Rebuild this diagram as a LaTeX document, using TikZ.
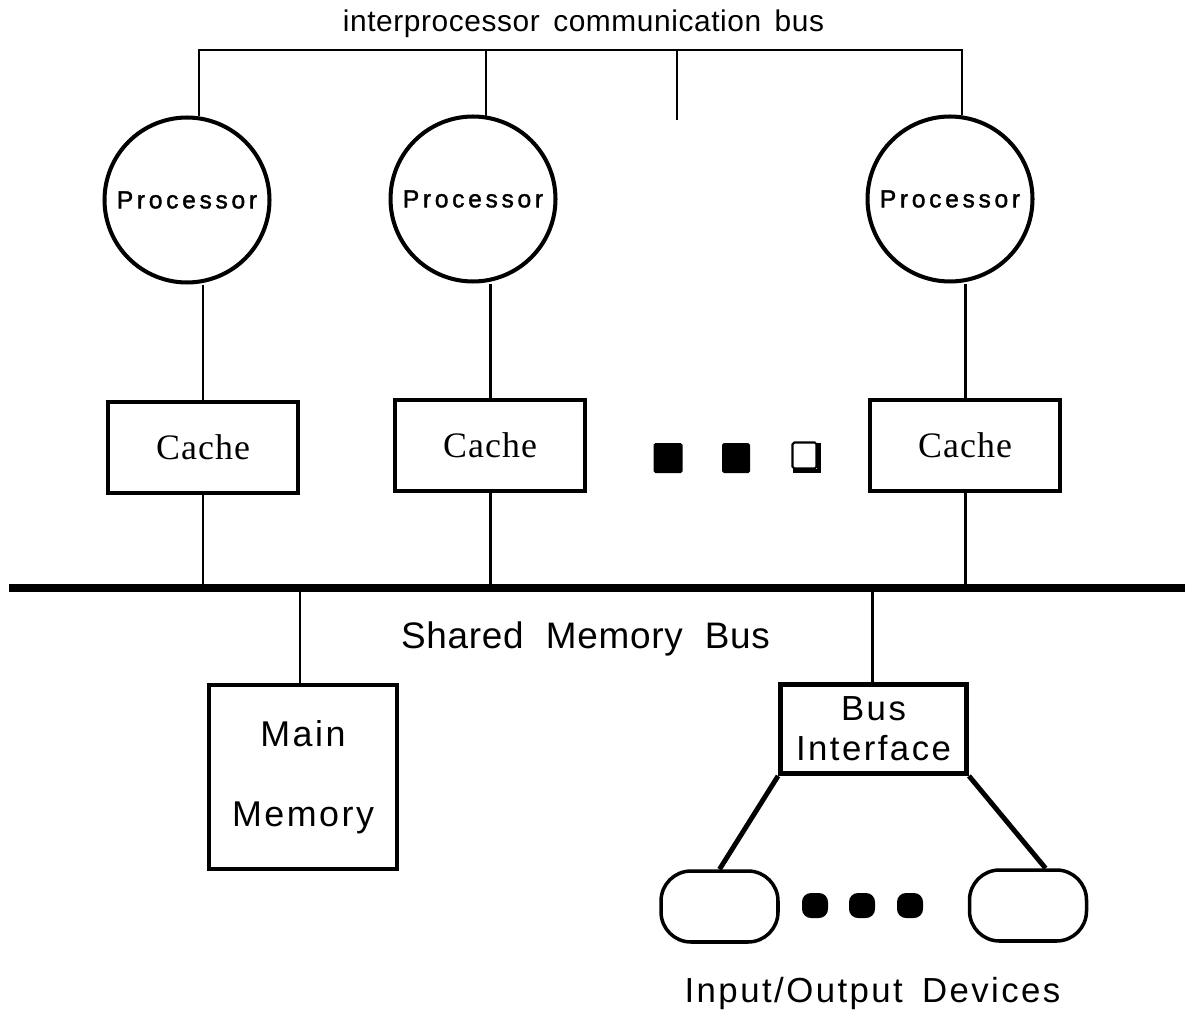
\documentclass[tikz,border=0pt]{standalone}
\usepackage{fontspec}
\setmainfont{Liberation Sans}
\newfontfamily\serfont[LetterSpace=3]{Liberation Serif}
\newfontfamily\trackfont[LetterSpace=7]{Liberation Sans}
\newfontfamily\lighttrack[LetterSpace=2]{Liberation Sans}
\newfontfamily\procfont[LetterSpace=15,FakeBold=1.5]{Liberation Sans}
\begin{document}
\begin{tikzpicture}[x=0.02cm,y=-0.02cm,
  proc/.style={circle,draw,line width=2.3pt,minimum size=3.3cm,inner sep=0pt,
    font=\procfont\fontsize{14}{16}\selectfont},
  cachebox/.style={draw,line width=2.4pt,minimum width=3.8cm,minimum height=1.82cm,inner sep=0pt,
    font=\serfont\fontsize{20.4}{24}\selectfont},
  membox/.style={draw,line width=2.5pt,minimum width=3.76cm,minimum height=3.68cm,inner sep=0pt,align=center,
    font=\trackfont\fontsize{20.4}{45.4}\selectfont},
  bibox/.style={draw,line width=2.8pt,minimum width=3.72cm,minimum height=1.78cm,inner sep=0pt,align=center,
    font=\trackfont\fontsize{19.8}{22.7}\selectfont},
  iobox/.style={draw,line width=2pt,minimum width=2.34cm,minimum height=1.42cm,inner sep=0pt,rounded corners=0.6cm},
  iodot/.style={fill,minimum width=0.52cm,minimum height=0.5cm,inner sep=0pt,rounded corners=0.18cm},
  fsq/.style={fill,minimum width=0.58cm,minimum height=0.6cm,inner sep=0pt,rounded corners=1pt},
  thinline/.style={line width=1.1pt},
  midline/.style={line width=1.7pt},
  thickline/.style={line width=2.8pt},
  busline/.style={line width=5.1pt}
]
\useasboundingbox (0,0) rectangle (1185,1013);

% title
\node[anchor=base,font=\lighttrack\fontsize{17}{20}\selectfont,inner sep=0pt] (title) at (583.5,32)
  {interprocessor\hspace{0.45em}communication\hspace{0.45em}bus};

% processors
\node[proc] (p1) at (187,200) {Processor};
\node[proc] (p2) at (473,199) {Processor};
\node[proc] (p3) at (950,199) {Processor};

% interprocessor bus
\coordinate (ib) at (0,50);
\coordinate (stubA) at (677,50);
\coordinate (stubB) at (677,120);
\draw[thinline] (p1.82) |- (p3.82 |- ib) -- (p3.82);
\draw[thinline] (p2.81) -- (p2.81 |- ib);
\draw[thinline] (stubA) -- (stubB);

% caches
\node[cachebox] (c1) at (203,447.5) {Cache};
\node[cachebox] (c2) at (490,445.5) {Cache};
\node[cachebox] (c3) at (965,445.5) {Cache};

\draw[midline] (p1.south -| c1.north) -- (c1.north);
\draw[midline] (p2.south -| c2.north) -- (c2.north);
\draw[midline] (p3.south -| c3.north) -- (c3.north);

% ellipsis squares
\node[fsq] (s1) at (668,458) {};
\node[fsq,minimum width=0.56cm] (s2) at (736,458) {};
\node[draw,line width=1.2pt,minimum width=0.48cm,minimum height=0.52cm,inner sep=0pt,rounded corners=1pt] (s3) at (804.5,455.5) {};
\draw[line width=2.2pt] ([shift={(2,1.5)}]s3.south west) -| ([shift={(1.5,2)}]s3.north east);

% shared memory bus
\coordinate (busL) at (9,588);
\coordinate (busR) at (1185,588);
\draw[busline] (busL) -- (busR);
\draw[midline] (c1.south) -- (c1.south |- busL);
\draw[midline] (c2.south) -- (c2.south |- busL);
\draw[midline] (c3.south) -- (c3.south |- busL);

\node[anchor=base,font=\lighttrack\fontsize{21}{24}\selectfont,inner sep=0pt] (sbus) at (585.5,648)
  {Shared\hspace{0.6em}Memory\hspace{0.6em}Bus};

% main memory
\node[membox] (mm) at (303,777) {Main\\Memory};
\draw[midline] (mm.north -| 300,0) -- (300,588);

% bus interface
\node[bibox] (bi) at (873.5,729) {Bus\\Interface};
\draw[midline] (bi.north -| 872,0) -- (872,588);

% I/O devices
\node[iobox] (io1) at (719.5,906.5) {};
\node[iobox] (io2) at (1028,905.5) {};
\draw[thickline] (bi.south west) -- (io1.north);
\draw[thickline] (bi.south east) -- ([xshift=10]io2.north);

\node[iodot] (d1) at (815,905.5) {};
\node[iodot] (d2) at (862,905.5) {};
\node[iodot] (d3) at (910,905.5) {};

\node[anchor=base,font=\trackfont\fontsize{19.8}{22}\selectfont,inner sep=0pt] (iolab) at (872.5,1002)
  {Input/Output\hspace{0.55em}Devices};
\end{tikzpicture}
\end{document}
